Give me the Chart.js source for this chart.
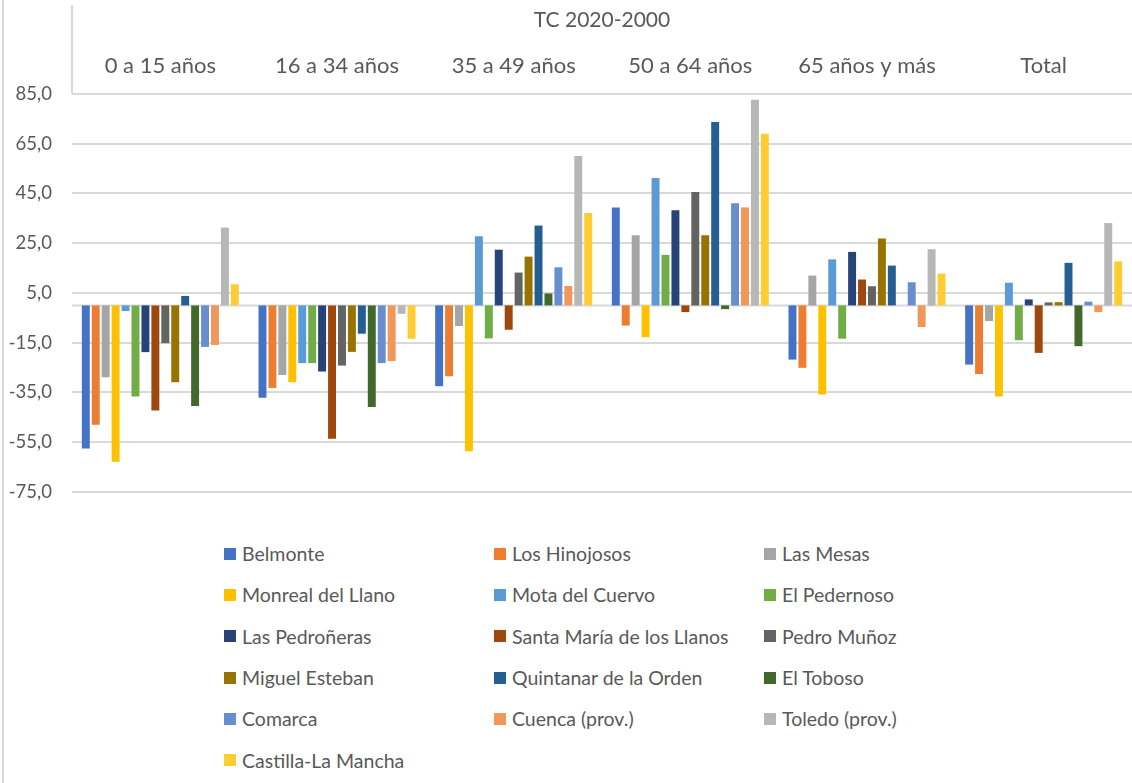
<!DOCTYPE html>
<html>
<head>
<meta charset="utf-8">
<script src="https://cdn.jsdelivr.net/npm/chart.js@4.4.0/dist/chart.umd.min.js"></script>
<style>
  body { margin: 0; background: #fff; font-family: Lato, "Open Sans", sans-serif; }
  .frame { position: absolute; left: 2px; top: 0; bottom: 0; border-left: 2px solid #d9d9d9; }
  .wrap { position: absolute; left: 0; top: 0; width: 1132px; height: 523px; }
  #legend {
    position: absolute; left: 224px; top: 533px;
    display: grid; grid-template-columns: repeat(3, 270px); grid-auto-rows: 41.3px;
    color: #595959; font-size: 19.5px;
  }
  #legend div { display: flex; align-items: center; white-space: nowrap; }
  #legend span.box { display: inline-block; width: 12px; height: 12px; margin-right: 6px; }
</style>
</head>
<body>
<div class="frame"></div>
<div class="wrap"><canvas id="c"></canvas></div>
<div id="legend"></div>
<script>
// categorias (grupos de edad)
const categories = ["0 a 15 años", "16 a 34 años", "35 a 49 años", "50 a 64 años", "65 años y más", "Total"];

// TC 2020-2000 por municipio
const belmonte      = [-57.5, -37.1, -32.5, 39.4, -21.8, -23.8];
const hinojosos     = [-48.0, -33.2, -28.5, -8.1, -25.1, -27.6];
const mesas         = [-28.9, -28.0, -8.3, 28.2, 12.0, -6.3];
const monreal       = [-62.9, -30.9, -58.7, -12.8, -35.8, -36.6];
const mota          = [-2.3, -23.2, 27.8, 51.2, 18.5, 9.1];
const pedernoso     = [-36.6, -23.2, -13.3, 20.3, -13.4, -14.0];
const pedroneras    = [-18.8, -26.6, 22.4, 38.3, 21.5, 2.4];
const santaMaria    = [-42.3, -53.6, -9.8, -2.7, 10.4, -19.1];
const pedroMunoz    = [-15.2, -24.2, 13.2, 45.6, 7.7, 1.2];
const miguelEsteban = [-30.9, -18.7, 19.6, 28.2, 26.9, 1.3];
const quintanar     = [3.8, -11.4, 32.1, 73.7, 16.0, 17.1];
const toboso        = [-40.5, -40.9, 4.8, -1.5, 0, -16.4];
const comarca       = [-16.7, -23.2, 15.3, 41.1, 9.3, 1.5];
const cuenca        = [-15.9, -22.4, 7.8, 39.4, -8.7, -2.7];
const toledo        = [31.3, -3.4, 60.1, 82.7, 22.6, 33.1];
const clm           = [8.5, -13.4, 37.1, 69.0, 12.8, 17.7];

const seriesNames = ["Belmonte", "Los Hinojosos", "Las Mesas", "Monreal del Llano", "Mota del Cuervo",
  "El Pedernoso", "Las Pedroñeras", "Santa María de los Llanos", "Pedro Muñoz", "Miguel Esteban",
  "Quintanar de la Orden", "El Toboso", "Comarca", "Cuenca (prov.)", "Toledo (prov.)", "Castilla-La Mancha"];
const seriesValues = [belmonte, hinojosos, mesas, monreal, mota, pedernoso, pedroneras, santaMaria,
  pedroMunoz, miguelEsteban, quintanar, toboso, comarca, cuenca, toledo, clm];
const seriesColors = ["#4472C4", "#ED7D31", "#A5A5A5", "#FFC000", "#5B9BD5", "#70AD47", "#264478", "#9E480E",
  "#636363", "#997300", "#255E91", "#43682B", "#698ED0", "#F1975A", "#B7B7B7", "#FFCD33"];

const yTicks = { min: -75, max: 85, step: 20 };

const gray = "#595959";
const gridColor = "#d9d9d9";

// linea del cero + separador del eje de categorias
const extraLines = {
  id: "extraLines",
  beforeDatasetsDraw(chart) {
    const { ctx, chartArea, scales } = chart;
    const y0 = scales.y.getPixelForValue(0);
    ctx.save();
    ctx.strokeStyle = gridColor;
    ctx.lineWidth = 2;
    ctx.beginPath();
    ctx.moveTo(chartArea.left, y0);
    ctx.lineTo(chartArea.right, y0);
    ctx.moveTo(chartArea.left, 5);
    ctx.lineTo(chartArea.left, chartArea.top);
    ctx.stroke();
    ctx.restore();
  }
};

new Chart(document.getElementById("c"), {
  type: "bar",
  data: {
    labels: categories,
    datasets: seriesNames.map((n, i) => ({
      label: n,
      data: seriesValues[i],
      backgroundColor: seriesColors[i],
      categoryPercentage: 0.9,
      barPercentage: 0.8
    }))
  },
  options: {
    responsive: true,
    maintainAspectRatio: false,
    animation: false,
    layout: { padding: 0 },
    plugins: { legend: { display: false }, tooltip: { enabled: false } },
    scales: {
      x: {
        position: "top",
        grid: { display: false, drawTicks: false },
        border: { display: false },
        ticks: { color: gray, font: { family: "Lato", size: 22 }, padding: 15, maxRotation: 0 },
        title: { display: true, text: "TC 2020-2000", color: gray, font: { family: "Lato", size: 21 }, padding: { top: 8, bottom: 0 } },
        afterFit(scale) { scale.height = 94; }
      },
      y: {
        min: yTicks.min,
        max: yTicks.max,
        grid: { color: gridColor, lineWidth: 2, drawTicks: false },
        border: { display: false },
        ticks: {
          stepSize: yTicks.step,
          color: gray,
          padding: 20,
          font: { family: "Lato", size: 18.5 },
          callback: v => v.toFixed(1).replace(".", ",")
        },
        afterFit(scale) { scale.width = 72; }
      }
    }
  },
  plugins: [extraLines]
});

// leyenda en tres columnas
const leg = document.getElementById("legend");
seriesNames.forEach((n, i) => {
  const d = document.createElement("div");
  d.innerHTML = '<span class="box" style="background:' + seriesColors[i] + '"></span>' + n;
  leg.appendChild(d);
});
</script>
</body>
</html>
